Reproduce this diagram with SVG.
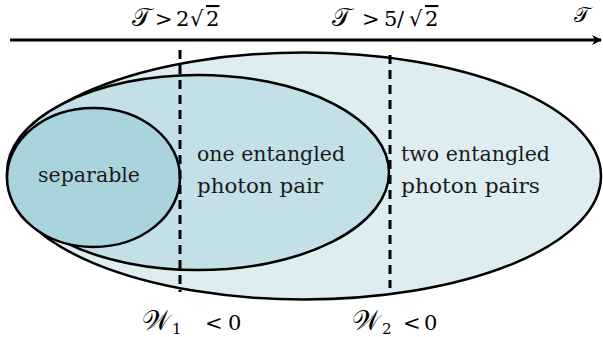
<svg xmlns="http://www.w3.org/2000/svg" width="603" height="337" viewBox="0 0 603 337">
<style>
.reg{stroke:#000;stroke-width:2.5}
.t{font-family:'DejaVu Serif',serif;font-size:19.5px;fill:#1a1a1a}
.m{font-family:'DejaVu Serif',serif;font-size:21px;fill:#000}
.s{font-size:25px}
.w{font-size:27px}
.d{stroke:#000;stroke-width:3;stroke-dasharray:9,6;fill:none}
</style>
<defs>
<marker id="ah" markerWidth="10" markerHeight="10" refX="9" refY="5" orient="auto" markerUnits="userSpaceOnUse" viewBox="0 0 10 10">
<path d="M0,0 L10,5 L0,10 L3,5 Z" fill="#000"/>
</marker>
</defs>
<rect width="603" height="337" fill="#fff"/>
<g id="twopairs">
<ellipse class="reg" cx="304" cy="176" rx="297" ry="123.5" fill="#ddedf2"/>
<text class="t" x="401" y="161" textLength="149" lengthAdjust="spacingAndGlyphs">two entangled</text>
<text class="t" x="401" y="193" textLength="139" lengthAdjust="spacingAndGlyphs">photon pairs</text>
</g>
<g id="onepair">
<ellipse class="reg" cx="198" cy="172.5" rx="191" ry="97.5" fill="#c2e0e6"/>
<text class="t" x="197" y="161" textLength="148" lengthAdjust="spacingAndGlyphs">one entangled</text>
<text class="t" x="197" y="193" textLength="126" lengthAdjust="spacingAndGlyphs">photon pair</text>
</g>
<g id="separable">
<ellipse class="reg" cx="93.5" cy="177.5" rx="86.5" ry="69.5" fill="#a9d3dd"/>
<text class="t" x="38" y="182" textLength="102" lengthAdjust="spacingAndGlyphs">separable</text>
</g>
<g id="connectors">
<line x1="10" y1="40" x2="601" y2="40" stroke="#000" stroke-width="3" marker-end="url(#ah)"/>
<line class="d" x1="180" y1="50" x2="180" y2="292"/>
<line class="d" x1="390" y1="55" x2="390" y2="288"/>
</g>
<g id="labels">
<text class="m" y="26"><tspan class="s" x="132">𝒯</tspan><tspan x="155">&gt;</tspan><tspan x="176">2</tspan><tspan x="190">√</tspan><tspan x="206" text-decoration="overline">2</tspan></text>
<text class="m" y="26"><tspan class="s" x="332">𝒯</tspan><tspan x="362">&gt;</tspan><tspan x="384">5</tspan><tspan x="397">/</tspan><tspan x="409">√</tspan><tspan x="425" text-decoration="overline">2</tspan></text>
<text class="m" font-size="23" x="574" y="22">𝒯</text>
<text class="m" y="330"><tspan class="w" x="142">𝒲</tspan><tspan font-size="15" x="172" dy="4">1</tspan><tspan x="205" dy="-4">&lt;</tspan><tspan x="228">0</tspan></text>
<text class="m" y="330"><tspan class="w" x="352">𝒲</tspan><tspan font-size="15" x="382" dy="4">2</tspan><tspan x="403" dy="-4">&lt;</tspan><tspan x="424">0</tspan></text>
</g>
</svg>
